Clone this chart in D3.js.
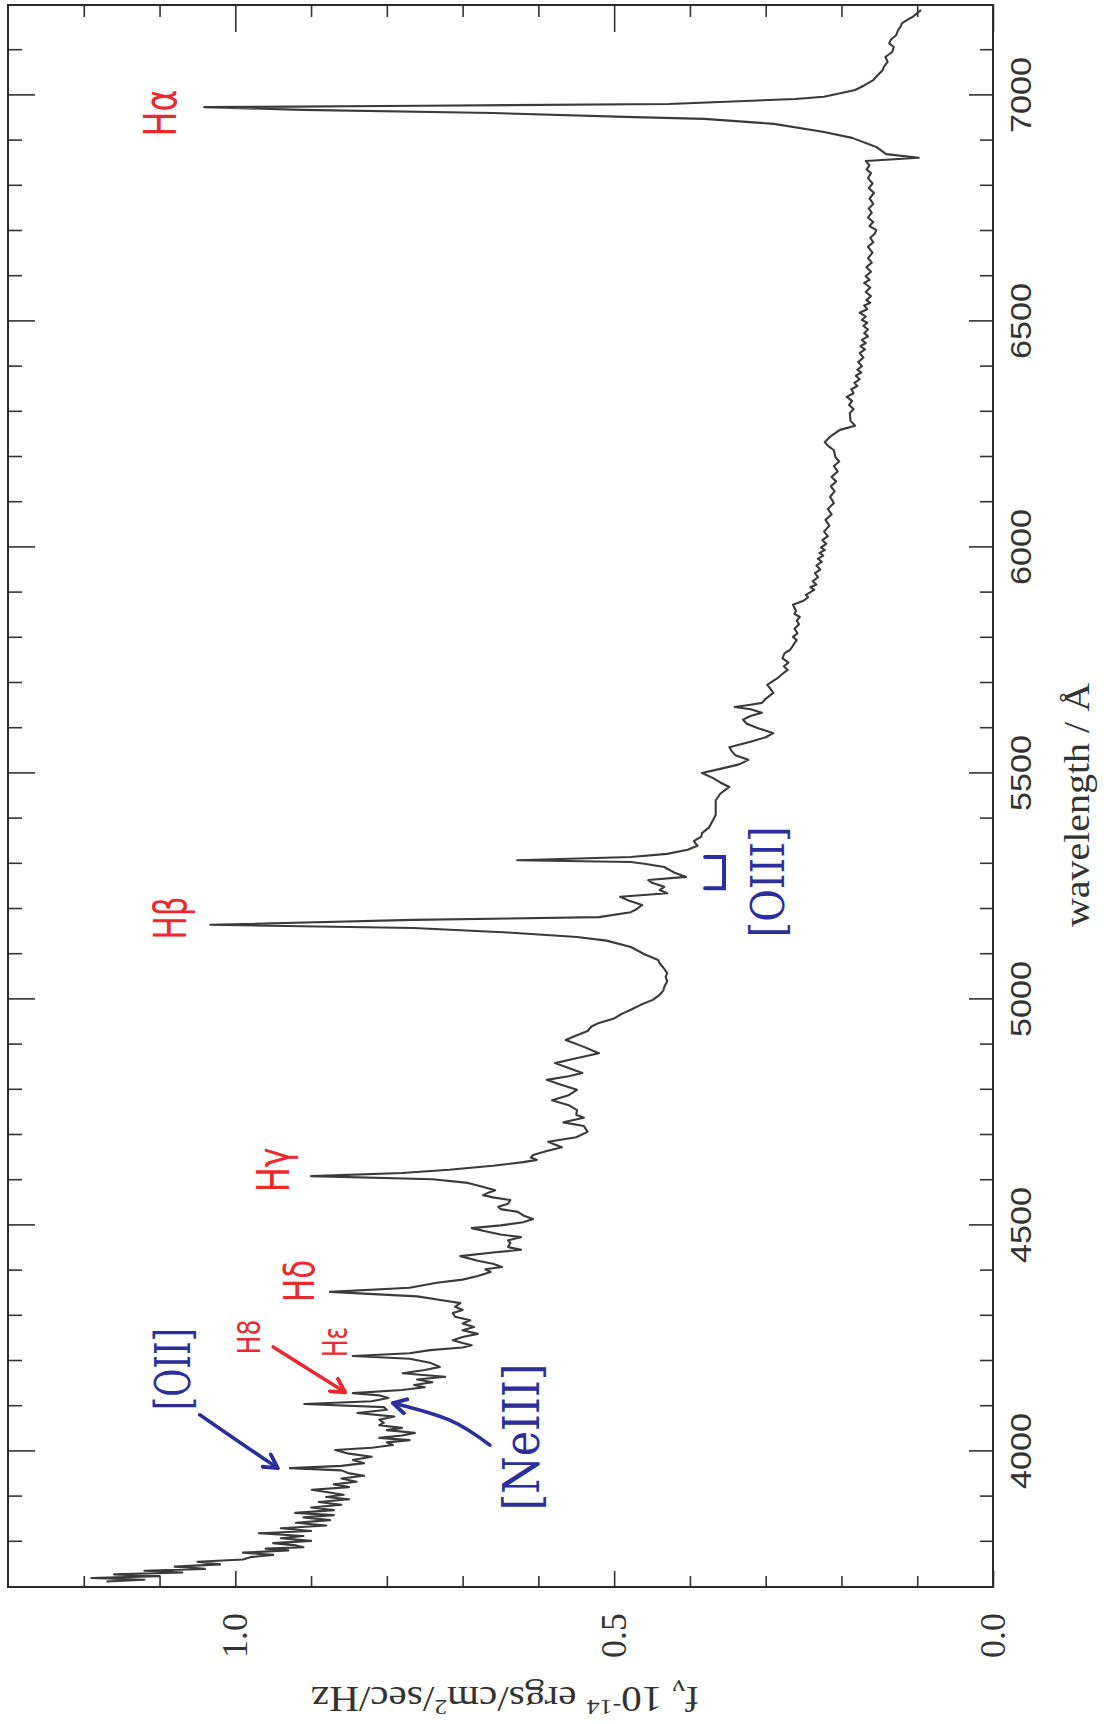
<!DOCTYPE html>
<html>
<head>
<meta charset="utf-8">
<style>
    body { margin: 0; background: #fff; }
    svg { display: block; }
    .hand { font-family: 'DejaVu Sans', sans-serif; }
    .hand-serif { font-family: 'DejaVu Serif', serif; }
</style>
</head>
<body>
<svg width="1104" height="1724"></svg>

<script src="https://d3js.org/d3.v7.min.js"></script>
<script>
    // spectrum: [wavelength (Angstrom), flux (1e-14 erg/cm2/s/Hz)]
    const spectrumBlue = [
        [3712, 1.17], [3716, 1.12], [3720, 1.19], [3724, 1.10], [3728, 1.16], [3732, 1.07], [3736, 1.12], [3740, 1.04],
        [3745, 1.08], [3750, 1.02], [3756, 1.05], [3761, 0.99], [3766, 0.98], [3771, 0.95], [3776, 0.99], [3781, 0.93],
        [3785, 0.96], [3788, 0.91], [3792, 0.92], [3797, 0.95], [3802, 0.90], [3808, 0.94], [3813, 0.91], [3819, 0.969],
        [3824, 0.90], [3830, 0.94], [3836, 0.88], [3842, 0.92], [3848, 0.875], [3854, 0.91], [3859, 0.87], [3864, 0.921],
        [3870, 0.87], [3876, 0.90], [3882, 0.86], [3888, 0.89], [3894, 0.85], [3899, 0.88], [3904, 0.857], [3910, 0.88],
        [3915, 0.899], [3921, 0.85], [3927, 0.87], [3933, 0.84], [3940, 0.86], [3946, 0.83], [3952, 0.851], [3958, 0.86],
        [3963, 0.928], [3968, 0.86], [3974, 0.83], [3981, 0.845], [3988, 0.82], [3995, 0.85], [4003, 0.868], [4008, 0.82],
        [4014, 0.792], [4020, 0.80], [4025, 0.77], [4030, 0.81], [4035, 0.78], [4041, 0.763], [4047, 0.80], [4052, 0.78],
        [4058, 0.81], [4063, 0.804], [4070, 0.81], [4077, 0.79], [4085, 0.839], [4092, 0.80], [4098, 0.804], [4105, 0.909],
        [4111, 0.82], [4118, 0.798], [4124, 0.81], [4129, 0.845], [4136, 0.78], [4142, 0.75], [4147, 0.764], [4153, 0.74],
        [4159, 0.76], [4165, 0.723], [4170, 0.76], [4173, 0.779], [4180, 0.75], [4187, 0.73], [4196, 0.743], [4205, 0.77],
        [4211, 0.845], [4217, 0.77], [4224, 0.743], [4230, 0.70], [4235, 0.688], [4240, 0.70], [4246, 0.713], [4253, 0.70],
        [4260, 0.68], [4268, 0.70], [4275, 0.685], [4283, 0.70], [4290, 0.69], [4298, 0.71], [4306, 0.713], [4313, 0.70],
        [4320, 0.71], [4328, 0.703], [4335, 0.729], [4343, 0.76], [4353, 0.875], [4362, 0.77], [4373, 0.734], [4380, 0.70],
        [4388, 0.68], [4397, 0.663], [4403, 0.67], [4408, 0.648], [4415, 0.66], [4422, 0.68], [4432, 0.703], [4440, 0.66],
        [4446, 0.623], [4452, 0.64], [4461, 0.637], [4467, 0.64], [4474, 0.623], [4480, 0.65], [4487, 0.67], [4494, 0.688],
        [4500, 0.65], [4507, 0.62], [4514, 0.607], [4522, 0.62], [4530, 0.627], [4536, 0.65], [4541, 0.653], [4548, 0.64],
        [4556, 0.637], [4562, 0.66], [4567, 0.673], [4573, 0.665], [4578, 0.657], [4586, 0.675], [4594, 0.693], [4602, 0.74]
    ];

    const spectrumMid = [
        [4609, 0.90], [4616, 0.78], [4623, 0.718], [4632, 0.66], [4640, 0.62], [4645, 0.602], [4650, 0.61], [4656, 0.607],
        [4664, 0.59], [4673, 0.569], [4680, 0.58], [4685, 0.587], [4695, 0.55], [4707, 0.535], [4720, 0.54], [4728, 0.567],
        [4738, 0.54], [4745, 0.55], [4755, 0.549], [4766, 0.56], [4777, 0.582], [4788, 0.56], [4800, 0.549], [4811, 0.57],
        [4822, 0.589], [4830, 0.56], [4837, 0.542], [4848, 0.56], [4859, 0.578], [4870, 0.55], [4881, 0.52], [4895, 0.54],
        [4910, 0.564], [4920, 0.55], [4930, 0.535], [4940, 0.53], [4948, 0.52], [4958, 0.50], [4968, 0.49], [4977, 0.478],
        [4988, 0.465], [4999, 0.449], [5010, 0.44], [5020, 0.435], [5027, 0.434], [5040, 0.43], [5050, 0.432], [5058, 0.43],
        [5070, 0.435], [5080, 0.44], [5087, 0.442], [5100, 0.46], [5116, 0.478], [5130, 0.51], [5138, 0.549], [5148, 0.64],
        [5158, 0.765], [5165, 1.033], [5176, 0.765], [5182, 0.52], [5193, 0.478], [5200, 0.47], [5209, 0.463], [5218, 0.48],
        [5227, 0.492], [5235, 0.43], [5242, 0.44], [5249, 0.434], [5258, 0.45], [5264, 0.455], [5271, 0.405], [5280, 0.42],
        [5293, 0.434], [5300, 0.46], [5304, 0.478], [5308, 0.628], [5315, 0.478], [5322, 0.43], [5331, 0.403], [5340, 0.39],
        [5350, 0.395], [5360, 0.385], [5368, 0.384], [5380, 0.375], [5395, 0.37], [5408, 0.366], [5420, 0.366], [5440, 0.366],
        [5455, 0.36], [5470, 0.348], [5480, 0.36], [5490, 0.37], [5501, 0.384], [5510, 0.36], [5520, 0.335], [5530, 0.323],
        [5540, 0.34], [5550, 0.345], [5558, 0.348], [5570, 0.32], [5580, 0.30], [5589, 0.29], [5600, 0.31], [5610, 0.325],
        [5619, 0.33], [5627, 0.32], [5634, 0.305], [5642, 0.32], [5647, 0.341], [5652, 0.32], [5656, 0.305], [5665, 0.30],
        [5678, 0.29], [5690, 0.295], [5696, 0.298], [5710, 0.285], [5720, 0.278], [5729, 0.271], [5737, 0.276], [5745, 0.27],
        [5755, 0.278], [5766, 0.275], [5773, 0.268], [5780, 0.265], [5788, 0.262], [5795, 0.259], [5802, 0.264], [5810, 0.258],
        [5820, 0.262], [5830, 0.256], [5838, 0.259], [5846, 0.255], [5853, 0.262], [5860, 0.26], [5873, 0.264], [5882, 0.25],
        [5890, 0.244], [5895, 0.247]
    ];

    const spectrumRed = [
        [5900, 0.242], [5906, 0.236], [5912, 0.241], [5918, 0.233], [5925, 0.238], [5934, 0.231], [5943, 0.235], [5951, 0.228],
        [5960, 0.233], [5968, 0.226], [5975, 0.231], [5982, 0.224], [5988, 0.229], [5994, 0.222], [6000, 0.227], [6008, 0.220],
        [6016, 0.225], [6025, 0.218], [6035, 0.223], [6048, 0.216], [6061, 0.221], [6073, 0.213], [6085, 0.218], [6098, 0.210],
        [6112, 0.215], [6124, 0.209], [6135, 0.214], [6146, 0.207], [6156, 0.213], [6168, 0.205], [6180, 0.210], [6190, 0.203],
        [6200, 0.208], [6215, 0.21], [6225, 0.218], [6233, 0.222], [6245, 0.215], [6260, 0.202], [6269, 0.182], [6280, 0.188],
        [6297, 0.189], [6306, 0.184], [6315, 0.19], [6324, 0.186], [6333, 0.193], [6341, 0.184], [6350, 0.187], [6357, 0.179],
        [6364, 0.183], [6372, 0.176], [6380, 0.181], [6387, 0.174], [6393, 0.179], [6401, 0.173], [6410, 0.178], [6420, 0.171],
        [6430, 0.176], [6438, 0.169], [6445, 0.175], [6452, 0.168], [6459, 0.173], [6467, 0.165], [6474, 0.17], [6482, 0.165],
        [6490, 0.171], [6497, 0.166], [6503, 0.173], [6511, 0.168], [6519, 0.176], [6527, 0.166], [6535, 0.17], [6541, 0.162],
        [6547, 0.167], [6556, 0.161], [6565, 0.168], [6575, 0.162], [6585, 0.17], [6592, 0.163], [6600, 0.168], [6610, 0.161],
        [6620, 0.167], [6630, 0.16], [6640, 0.165], [6652, 0.159], [6665, 0.165], [6675, 0.158], [6685, 0.162], [6694, 0.156],
        [6702, 0.154], [6711, 0.163], [6720, 0.158], [6730, 0.165], [6740, 0.16], [6750, 0.164], [6760, 0.158], [6772, 0.163],
        [6784, 0.157], [6795, 0.164], [6805, 0.159], [6817, 0.165], [6828, 0.161], [6836, 0.167], [6845, 0.163], [6855, 0.168],
        [6862, 0.098], [6870, 0.141], [6886, 0.154], [6906, 0.186], [6919, 0.223], [6937, 0.289], [6948, 0.381], [6952, 0.474],
        [6961, 0.66], [6968, 0.911], [6974, 1.041], [6977, 0.754], [6981, 0.428], [6992, 0.261], [6997, 0.223], [7012, 0.182],
        [7022, 0.17], [7034, 0.158], [7045, 0.152], [7055, 0.146], [7063, 0.144], [7074, 0.139], [7085, 0.142], [7096, 0.133],
        [7107, 0.131], [7115, 0.137], [7123, 0.135], [7133, 0.128], [7145, 0.125], [7152, 0.122], [7160, 0.12], [7168, 0.112],
        [7175, 0.105], [7182, 0.10], [7189, 0.095]
    ];

    // axis ticks
    const waveMajor = [4000, 4500, 5000, 5500, 6000, 6500, 7000];
    const waveMinor = [3800, 3900, 4100, 4200, 4300, 4400, 4600, 4700, 4800, 4900, 5100, 5200, 5300, 5400,
        5600, 5700, 5800, 5900, 6100, 6200, 6300, 6400, 6600, 6700, 6800, 6900, 7100];
    const fluxMajor = [0.0, 0.5, 1.0];
    const fluxMinor = [0.1, 0.2, 0.3, 0.4, 0.6, 0.7, 0.8, 0.9, 1.1, 1.2];

    // hand written line ids (anchor in data units)
    const lineLabel = ["Hα", "Hβ", "Hγ", "Hδ", "Hε", "H8", "[OII]", "[NeIII]", "[OIII]"];
    const lineWave = [6961, 5180, 4623, 4377, 4242, 4253, 4182, 4032, 5260];
    const lineFlux = [1.099, 1.086, 0.950, 0.915, 0.868, 0.982, 1.082, 0.622, 0.297];

    // arrows: [wavelength, flux] points
    const arrowH8 = [[4231, 0.950], [4131, 0.855]];
    const arrowOII = [[4081, 1.047], [4030, 1.003], [3963, 0.944]];
    const arrowNeIII = [[4014, 0.664], [4069, 0.717], [4107, 0.792]];
    const bracketOIII = [[5315, 0.38], [5315, 0.355], [5246, 0.355], [5246, 0.38]];

    let plotW = 1582, plotH = 985;
    let red = "#ea2a2e", blue = "#2b2f9c";

    let svg = d3.select("svg");

    let defs = svg.append("defs");
    [["arrRed", red], ["arrBlue", blue]].forEach(m => {
        defs.append("marker")
            .attr("id", m[0])
            .attr("viewBox", "0 0 12 12")
            .attr("refX", 10).attr("refY", 6)
            .attr("markerWidth", 18).attr("markerHeight", 18)
            .attr("markerUnits", "userSpaceOnUse")
            .attr("orient", "auto")
            .append("path")
            .attr("d", "M1,1 L10,6 L1,11")
            .style("fill", "none")
            .style("stroke", m[1])
            .style("stroke-width", 2.6)
            .style("stroke-linecap", "round")
            .style("stroke-linejoin", "round");
    });

    // the page is printed sideways: draw the normal plot and turn it
    let g = svg.append("g").attr("transform", "translate(8,1587) rotate(-90)");

    let x = d3.scaleLinear().domain([3700, 7200]).range([0, plotW]);
    let y = d3.scaleLinear().domain([0, 1.3]).range([plotH, 0]);

    function tickStyle(sel) {
        sel.select(".domain").remove();
        sel.selectAll("line").style("stroke", "#333").style("stroke-width", 1.6);
    }

    // wavelength axis (bottom of the plot, right side of the page)
    g.append("g").attr("transform", `translate(0,${plotH})`)
        .call(d3.axisBottom(x).tickValues(waveMinor).tickSize(-13).tickFormat(""))
        .call(tickStyle);
    let xAxis = g.append("g").attr("transform", `translate(0,${plotH})`)
        .call(d3.axisBottom(x).tickValues(waveMajor).tickSize(-24).tickPadding(17).tickFormat(d3.format("d")))
        .call(tickStyle);
    xAxis.selectAll("text")
        .style("font-family", "'Liberation Sans', Arial, sans-serif")
        .style("font-size", "30px")
        .style("fill", "#333")
        .attr("textLength", 76)
        .attr("lengthAdjust", "spacingAndGlyphs");

    g.append("g")
        .call(d3.axisTop(x).tickValues(waveMinor).tickSize(-14).tickFormat(""))
        .call(tickStyle);
    g.append("g")
        .call(d3.axisTop(x).tickValues(waveMajor).tickSize(-27).tickFormat(""))
        .call(tickStyle);

    // flux axis (left of the plot, bottom of the page)
    g.append("g")
        .call(d3.axisLeft(y).tickValues(fluxMinor).tickSize(-11).tickFormat(""))
        .call(tickStyle);
    let yAxis = g.append("g")
        .call(d3.axisLeft(y).tickValues(fluxMajor).tickSize(-16).tickPadding(26).tickFormat(d3.format(".1f")))
        .call(tickStyle);
    yAxis.selectAll("text")
        .style("font-family", "'Liberation Serif', 'Times New Roman', serif")
        .style("font-size", "36px")
        .style("fill", "#333");

    g.append("g").attr("transform", `translate(${plotW},0)`)
        .call(d3.axisRight(y).tickValues(fluxMinor).tickSize(-12).tickFormat(""))
        .call(tickStyle);
    g.append("g").attr("transform", `translate(${plotW},0)`)
        .call(d3.axisRight(y).tickValues(fluxMajor).tickSize(-27).tickFormat(""))
        .call(tickStyle);

    // frame
    g.append("rect")
        .attr("width", plotW).attr("height", plotH)
        .style("fill", "none")
        .style("stroke", "#2b2b2b")
        .style("stroke-width", 2);

    // axis titles
    g.append("text")
        .attr("x", 782).attr("y", plotH + 96)
        .attr("text-anchor", "middle")
        .attr("textLength", 244)
        .attr("lengthAdjust", "spacingAndGlyphs")
        .style("font-family", "'Liberation Serif', 'Times New Roman', serif")
        .style("font-size", "36px")
        .style("fill", "#333")
        .text("wavelength / Å");

    let yTitle = g.append("text")
        .attr("transform", "translate(-100,497) rotate(-90)")
        .attr("text-anchor", "middle")
        .attr("textLength", 388)
        .attr("lengthAdjust", "spacingAndGlyphs")
        .style("font-family", "'Liberation Serif', 'Times New Roman', serif")
        .style("font-size", "35px")
        .style("fill", "#333");
    yTitle.append("tspan").text("f");
    yTitle.append("tspan").attr("dy", 7).style("font-size", "24px").text("ν");
    yTitle.append("tspan").attr("dy", -7).text(" 10");
    yTitle.append("tspan").attr("dy", -13).style("font-size", "22px").text("-14");
    yTitle.append("tspan").attr("dy", 13).text(" ergs/cm");
    yTitle.append("tspan").attr("dy", -13).style("font-size", "22px").text("2");
    yTitle.append("tspan").attr("dy", 13).text("/sec/Hz");

    // spectrum
    let spec = spectrumBlue.concat(spectrumMid, spectrumRed);
    let line = d3.line()
        .x(d => x(d[0]))
        .y(d => y(d[1]));

    g.append("path")
        .datum(spec)
        .attr("d", line)
        .style("fill", "none")
        .style("stroke", "#3a3a3a")
        .style("stroke-width", 2.1)
        .style("stroke-linejoin", "round");

    // hand written notes
    let noteSize = [44, 44, 44, 42, 34, 32, 48, 50, 46];
    let noteLen = [47, 43, 45, 42, 30, 35, 82, 147, 111];
    let notes = lineLabel.map((t, i) => ({
        t: t, w: lineWave[i], f: lineFlux[i],
        size: noteSize[i], len: noteLen[i],
        color: t.startsWith("H") ? red : blue
    }));

    g.selectAll(".note")
        .data(notes)
        .join("text")
        .attr("class", d => d.t.startsWith("[") ? "note hand-serif" : "note hand")
        .attr("x", d => x(d.w))
        .attr("y", d => y(d.f))
        .attr("text-anchor", "middle")
        .attr("dominant-baseline", "central")
        .attr("textLength", d => d.len)
        .attr("lengthAdjust", "spacingAndGlyphs")
        .style("font-size", d => d.size + "px")
        .style("fill", d => d.color)
        .text(d => d.t);

    let curve = d3.line()
        .x(d => x(d[0]))
        .y(d => y(d[1]))
        .curve(d3.curveNatural);

    [[arrowH8, red, "arrRed"], [arrowOII, blue, "arrBlue"], [arrowNeIII, blue, "arrBlue"]].forEach(a => {
        g.append("path")
            .datum(a[0])
            .attr("d", curve)
            .attr("marker-end", `url(#${a[2]})`)
            .style("fill", "none")
            .style("stroke", a[1])
            .style("stroke-width", 3.6)
            .style("stroke-linecap", "round");
    });

    g.append("path")
        .datum(bracketOIII)
        .attr("d", d3.line().x(d => x(d[0])).y(d => y(d[1])))
        .style("fill", "none")
        .style("stroke", blue)
        .style("stroke-width", 4)
        .style("stroke-linecap", "round");
</script>
</body>
</html>
